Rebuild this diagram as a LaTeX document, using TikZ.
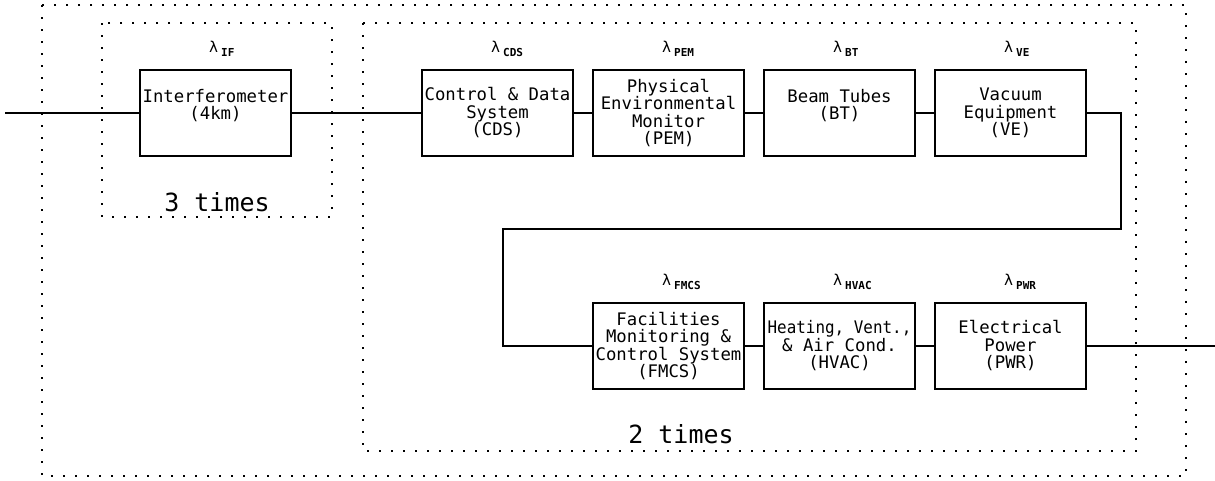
\documentclass[tikz,border=0pt]{standalone}
\usepackage{graphicx}
\usepackage{fontspec}
\newfontfamily\cad{DejaVu Sans Mono}
\newfontfamily\cadb{DejaVu Sans Mono Bold}
\newcommand{\lamlab}[1]{{\fontsize{15}{15}\selectfont λ}\hspace{3pt}\raisebox{-4pt}{\cadb\fontsize{11}{11}\selectfont #1}}
\begin{document}
\begin{tikzpicture}[x=1pt,y=-1pt,
  blk/.style={draw, line width=1.5pt, minimum width=151pt, minimum height=86pt, inner sep=0pt,
    align=center, font=\cad\fontsize{17.3}{17.5}\selectfont},
  wire/.style={line width=1.5pt},
  dotbox/.style={line width=1.7pt, dash pattern=on 1.7pt off 10.3pt},
  lam/.style={anchor=base west, inner sep=0pt, font=\cad},
  times/.style={inner sep=0pt, font=\cad\fontsize{25}{25}\selectfont}]
\useasboundingbox (0,0) rectangle (1215,480);
% dotted boundaries
\draw[dotbox] (42,5) rectangle (1186,476);
\draw[dotbox] (102,23) rectangle (332,217);
\draw[dotbox] (363,23) rectangle (1136,451);
% blocks
\node[blk] (IF)   at (215.5,113) {Interferometer\\(4km)\\ };
\node[blk] (CDS)  at (497.5,113) {Control \& Data\\System\\(CDS)};
\node[blk] (PEM)  at (668.5,113) {Physical\\Environmental\\Monitor\\(PEM)};
\node[blk] (BT)   at (839.5,113) {Beam Tubes\\(BT)\\ };
\node[blk] (VE)   at (1010.5,113) {Vacuum\\Equipment\\(VE)};
\node[blk] (FMCS) at (668.5,346) {Facilities\\Monitoring \&\\Control System\\(FMCS)};
\node[blk] (HVAC) at (839.5,346) {\scalebox{0.92}[1]{Heating, Vent.,}\\\& Air Cond.\\(HVAC)};
\node[blk] (PWR)  at (1010.5,346) {Electrical\\Power\\(PWR)};
% failure-rate labels
\node[lam] (lIF)   at (209,52) {\lamlab{IF}};
\node[lam] (lCDS)  at (491,52) {\lamlab{CDS}};
\node[lam] (lPEM)  at (662,52) {\lamlab{PEM}};
\node[lam] (lBT)   at (833,52) {\lamlab{BT}};
\node[lam] (lVE)   at (1004,52) {\lamlab{VE}};
\node[lam] (lFMCS) at (662,285) {\lamlab{FMCS}};
\node[lam] (lHVAC) at (833,285) {\lamlab{HVAC}};
\node[lam] (lPWR)  at (1004,285) {\lamlab{PWR}};
% repetition labels
\node[times] (t3) at (217,202) {3 times};
\node[times] (t2) at (681,434) {2 times};
% connectors
\coordinate (in) at (5,113);
\coordinate (out) at (1215,346);
\coordinate (k1) at (1121,229);
\coordinate (k2) at (503,229);
\draw[wire] (in) -- (IF.west);
\draw[wire] (IF.east) -- (CDS.west);
\draw[wire] (CDS.east) -- (PEM.west);
\draw[wire] (PEM.east) -- (BT.west);
\draw[wire] (BT.east) -- (VE.west);
\draw[wire] (VE.east) -| (k1) -- (k2) |- (FMCS.west);
\draw[wire] (FMCS.east) -- (HVAC.west);
\draw[wire] (HVAC.east) -- (PWR.west);
\draw[wire] (PWR.east) -- (out);
\end{tikzpicture}
\end{document}
